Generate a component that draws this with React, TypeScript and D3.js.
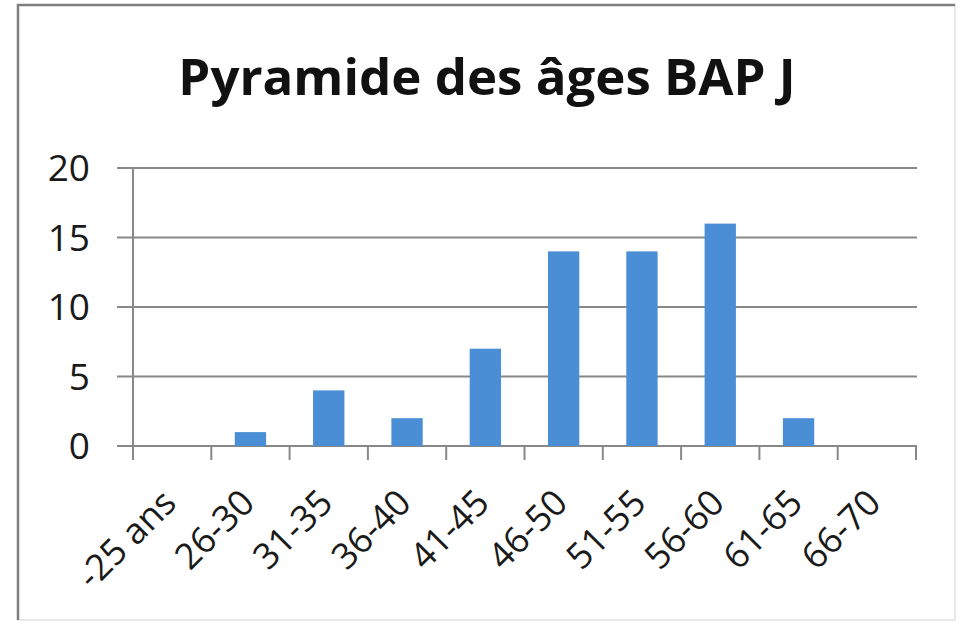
import * as d3 from "d3";
import React, { useEffect, useRef } from "react";

const title = "Pyramide des âges BAP J";
const categories = ["-25 ans", "26-30", "31-35", "36-40", "41-45", "46-50", "51-55", "56-60", "61-65", "66-70"];
const counts = [0, 1, 4, 2, 7, 14, 14, 16, 2, 0];
const yTicks = [0, 5, 10, 15, 20];

export default function App() {
    const svgRef = useRef<SVGSVGElement | null>(null);

    useEffect(() => {
        if (!svgRef.current) return;
        const svg = d3.select(svgRef.current);
        svg.selectAll("*").remove(); // Clear previous content

        const width = 962;
        const height = 630;
        const plot = { left: 133, right: 916, top: 168, bottom: 446 };
        const axisColor = "#888888";
        const font = "'Open Sans', 'DejaVu Sans', sans-serif";

        svg.attr("width", width).attr("height", height);

        // White background and frame (darker on top / left like the screenshot)
        svg.append("rect").attr("width", width).attr("height", height).attr("fill", "#ffffff");
        svg.append("rect")
            .attr("x", 18).attr("y", 5)
            .attr("width", 937).attr("height", 615)
            .attr("fill", "#ffffff")
            .attr("stroke", "#e2e2e2")
            .attr("stroke-width", 1.5);
        svg.append("path")
            .attr("d", "M18,620 L18,5 L955,5")
            .attr("fill", "none")
            .attr("stroke", "#7f7f7f")
            .attr("stroke-width", 2.5);

        // Title
        svg.append("text")
            .attr("x", 487)
            .attr("y", 95)
            .attr("text-anchor", "middle")
            .style("font-family", font)
            .style("font-weight", "bold")
            .style("font-size", "51px")
            .style("fill", "#111111")
            .text(title);

        const x = d3.scaleBand<string>().domain(categories).range([plot.left, plot.right]);
        const y = d3.scaleLinear().domain([0, 20]).range([plot.bottom, plot.top]);
        const barWidth = x.bandwidth() * 0.4;

        // Horizontal gridlines (extend left as tick marks)
        svg.append("g")
            .selectAll("line")
            .data(yTicks)
            .enter()
            .append("line")
            .attr("x1", plot.left - 16)
            .attr("x2", plot.right + 1)
            .attr("y1", (d) => y(d))
            .attr("y2", (d) => y(d))
            .attr("stroke", axisColor)
            .attr("stroke-width", 2);

        // Y axis labels
        svg.append("g")
            .selectAll("text")
            .data(yTicks)
            .enter()
            .append("text")
            .attr("x", 90)
            .attr("y", (d) => y(d))
            .attr("dy", "0.36em")
            .attr("text-anchor", "end")
            .style("font-family", font)
            .style("font-size", "37px")
            .style("fill", "#1a1a1a")
            .text((d) => String(d));

        // Bars
        svg.append("g")
            .selectAll("rect")
            .data(categories)
            .enter()
            .append("rect")
            .attr("x", (d) => (x(d) as number) + x.bandwidth() / 2 - barWidth / 2)
            .attr("y", (d, i) => y(counts[i]))
            .attr("width", barWidth)
            .attr("height", (d, i) => y(0) - y(counts[i]))
            .attr("fill", "#4a8fd5");

        // Y axis line
        svg.append("line")
            .attr("x1", plot.left).attr("x2", plot.left)
            .attr("y1", plot.top).attr("y2", plot.bottom + 14)
            .attr("stroke", axisColor)
            .attr("stroke-width", 2);

        // X axis tick marks at band boundaries
        const boundaries = categories.map((c) => x(c) as number).concat([plot.right]);
        svg.append("g")
            .selectAll("line")
            .data(boundaries)
            .enter()
            .append("line")
            .attr("x1", (d) => d).attr("x2", (d) => d)
            .attr("y1", plot.bottom).attr("y2", plot.bottom + 14)
            .attr("stroke", axisColor)
            .attr("stroke-width", 2);

        // X axis labels rotated -45deg
        svg.append("g")
            .selectAll("text")
            .data(categories)
            .enter()
            .append("text")
            .attr("transform", (d) => `translate(${(x(d) as number) + x.bandwidth() / 2 + 6},505) rotate(-45)`)
            .attr("text-anchor", "end")
            .style("font-family", font)
            .style("font-size", "36px")
            .style("fill", "#1a1a1a")
            .text((d) => d);
    }, []);

    return <svg ref={svgRef} style={{ position: "absolute", left: 0, top: 0 }} />;
}
